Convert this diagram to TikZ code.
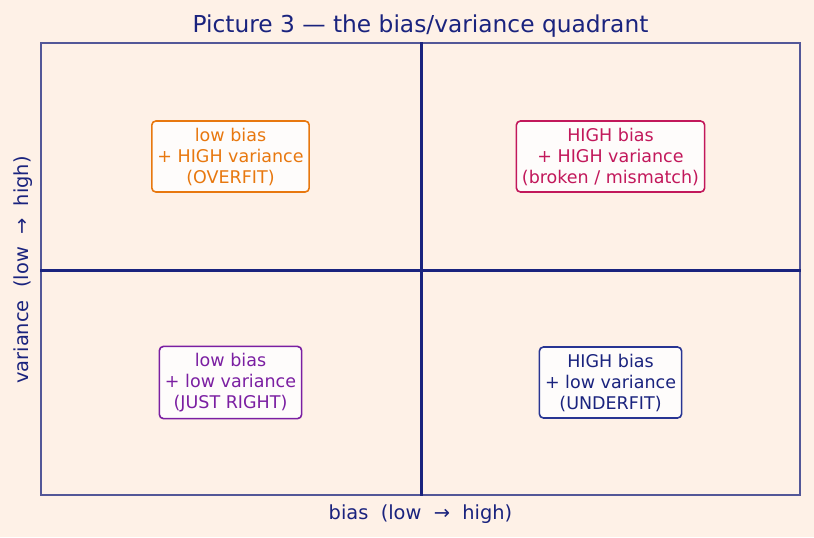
\documentclass[tikz,border=0pt]{standalone}
\usepackage{fontspec}
\setmainfont{DejaVu Sans}
\usetikzlibrary{positioning}
\definecolor{bgpeach}{HTML}{FEF1E7}
\definecolor{ink}{HTML}{1A237E}
\definecolor{overc}{HTML}{E8780F}
\definecolor{brokc}{HTML}{C2185B}
\definecolor{rightc}{HTML}{7B1FA2}
\definecolor{underc}{HTML}{283593}

\begin{document}
\begin{tikzpicture}[x=0.5pt, y=-0.5pt,
  font=\fontsize{8.75}{10.5}\selectfont,
  quad/.style={draw=#1, fill=white, fill opacity=0.85, text opacity=1,
               rounded corners=2pt, line width=0.8pt, align=center,
               inner xsep=2.8pt, minimum height=34.5pt},
  axis/.style={text=ink, font=\fontsize{9.7}{11.6}\selectfont},
  mid/.style={ink, line width=1.5pt}]
\fill[bgpeach] (0,0) rectangle (814,537);
\node[draw=ink!75!bgpeach, line width=0.6pt, minimum width=379.5pt,
      minimum height=226pt, inner sep=0pt] (plot) at (420.5,269) {};
\draw[mid] ([xshift=0.25pt]plot.north) -- ([xshift=0.25pt]plot.south);
\draw[mid] ([yshift=-0.5pt]plot.west) -- ([yshift=-0.5pt]plot.east);
\node[quad=overc, text=overc] (over) at (230.5,156.5) {low bias\\+ HIGH variance\\(OVERFIT)};
\node[quad=brokc, text=brokc] (broken) at (610.5,156.5) {HIGH bias\\+ HIGH variance\\(broken / mismatch)};
\node[quad=rightc, text=rightc] (right) at (230.5,382.5) {low bias\\+ low variance\\(JUST RIGHT)};
\node[quad=underc, text=ink] (under) at (610.5,382.5) {HIGH bias\\+ low variance\\(UNDERFIT)};
\node[text=ink, font=\fontsize{11.65}{14}\selectfont] (title) at (420.5,26.5) {Picture 3 — the bias/variance quadrant};
\node[axis] (xlab) at (420.5,514) {bias~\ (low~\ →~\ high)};
\node[axis, rotate=90] (ylab) at (23,270) {variance~\ (low~\ →~\ high)};
\end{tikzpicture}
\end{document}
